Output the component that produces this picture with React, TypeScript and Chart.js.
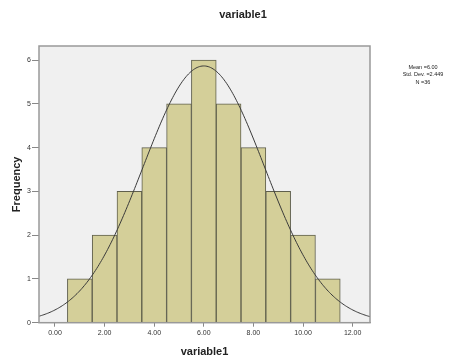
import React, { useEffect, useRef } from "react";
import { Chart, registerables } from "chart.js";

Chart.register(...registerables);

const binCenters = [1, 2, 3, 4, 5, 6, 7, 8, 9, 10, 11];
const frequencies = [1, 2, 3, 4, 5, 6, 5, 4, 3, 2, 1];
const xTickValues = [0, 2, 4, 6, 8, 10, 12];
const yTickValues = [0, 1, 2, 3, 4, 5, 6];
const statMean = 6.0;
const statStd = 2.449;
const statN = 36;
const binWidth = 1;
const titleText = "variable1";
const xTitle = "variable1";
const yTitle = "Frequency";
const statLines = ["Mean =6.00", "Std. Dev. =2.449", "N =36"];

const X_MIN = -0.645;
const X_MAX = 12.7;
const Y_MAX = 6.32;

function normalCurve() {
  const pts: { x: number; y: number }[] = [];
  const k = (statN * binWidth) / (statStd * Math.sqrt(2 * Math.PI));
  for (let i = 0; i <= 270; i++) {
    const x = X_MIN + ((X_MAX - X_MIN) * i) / 270;
    const z = (x - statMean) / statStd;
    pts.push({ x, y: k * Math.exp(-0.5 * z * z) });
  }
  return pts;
}

const FONT = "'Liberation Sans', Arial, sans-serif";

export default function App() {
  const ref = useRef<HTMLCanvasElement | null>(null);
  useEffect(() => {
    if (!ref.current) return;
    const framePlugin = {
      id: "frame",
      beforeDatasetsDraw(chart: any) {
        const { ctx, chartArea: a } = chart;
        ctx.save();
        ctx.fillStyle = "#f0f0f0";
        ctx.fillRect(a.left, a.top, a.right - a.left, a.bottom - a.top);
        ctx.restore();
      },
      afterDatasetsDraw(chart: any) {
        const { ctx, chartArea: a } = chart;
        ctx.save();
        ctx.strokeStyle = "#999999";
        ctx.lineWidth = 1.5;
        ctx.strokeRect(a.left, a.top, a.right - a.left, a.bottom - a.top);
        ctx.restore();
      },
      afterDraw(chart: any) {
        const { ctx } = chart;
        ctx.save();
        ctx.fillStyle = "#222";
        ctx.textAlign = "center";
        ctx.textBaseline = "middle";
        ctx.font = `bold 11px ${FONT}`;
        ctx.fillText(titleText, 243, 15);
        ctx.font = `5.5px ${FONT}`;
        statLines.forEach((s, i) => ctx.fillText(s, 423, 67 + i * 7.5));
        ctx.restore();
      },
    };
    const chart = new Chart(ref.current, {
      type: "bar",
      data: {
        datasets: [
          {
            type: "line",
            data: normalCurve(),
            borderColor: "#3a3a3a",
            borderWidth: 1,
            pointRadius: 0,
            tension: 0,
            order: 0,
          } as any,
          {
            type: "bar",
            data: binCenters.map((c, i) => ({ x: c, y: frequencies[i] })),
            backgroundColor: "#d4cf99",
            borderColor: "#5f5f4c",
            borderWidth: 1,
            barPercentage: 1,
            categoryPercentage: 1,
            order: 1,
          } as any,
        ],
      },
      options: {
        animation: false,
        responsive: false,
        maintainAspectRatio: false,
        layout: { padding: { left: 0, top: 46, right: 90, bottom: 0 } },
        plugins: { legend: { display: false }, tooltip: { enabled: false } },
        scales: {
          x: {
            type: "linear",
            offset: false,
            min: X_MIN,
            max: X_MAX,
            afterBuildTicks: (s: any) => {
              s.ticks = xTickValues.map((v) => ({ value: v }));
            },
            afterFit: (s: any) => {
              s.height = 37.3;
            },
            ticks: {
              font: { family: FONT, size: 7 },
              color: "#333",
              padding: 2,
              maxRotation: 0,
              autoSkip: false,
              callback: (v: any) => Number(v).toFixed(2),
            },
            grid: { offset: false, drawOnChartArea: false, drawTicks: true, tickLength: 4, color: "#888" },
            border: { display: true, color: "#999" },
            title: {
              display: true,
              text: xTitle,
              color: "#222",
              font: { family: FONT, size: 11, weight: "bold" },
              padding: { top: 0, bottom: 1.4 },
            },
          },
          y: {
            type: "linear",
            min: 0,
            max: Y_MAX,
            afterBuildTicks: (s: any) => {
              s.ticks = yTickValues.map((v) => ({ value: v }));
            },
            afterFit: (s: any) => {
              s.width = 39;
            },
            ticks: {
              font: { family: FONT, size: 7 },
              color: "#333",
              padding: 1,
              autoSkip: false,
            },
            grid: { drawOnChartArea: false, drawTicks: true, tickLength: 7, color: "#888" },
            border: { display: true, color: "#999" },
            title: {
              display: true,
              text: yTitle,
              color: "#222",
              font: { family: FONT, size: 11, weight: "bold" },
              padding: { top: 10.4, bottom: 0 },
            },
          },
        },
      },
      plugins: [framePlugin],
    } as any);
    return () => chart.destroy();
  }, []);
  return (
    <div style={{ position: "absolute", left: 0, top: 0, width: 460, height: 360, background: "#fff" }}>
      <canvas ref={ref} width={460} height={360} style={{ width: 460, height: 360, display: "block" }} />
    </div>
  );
}
